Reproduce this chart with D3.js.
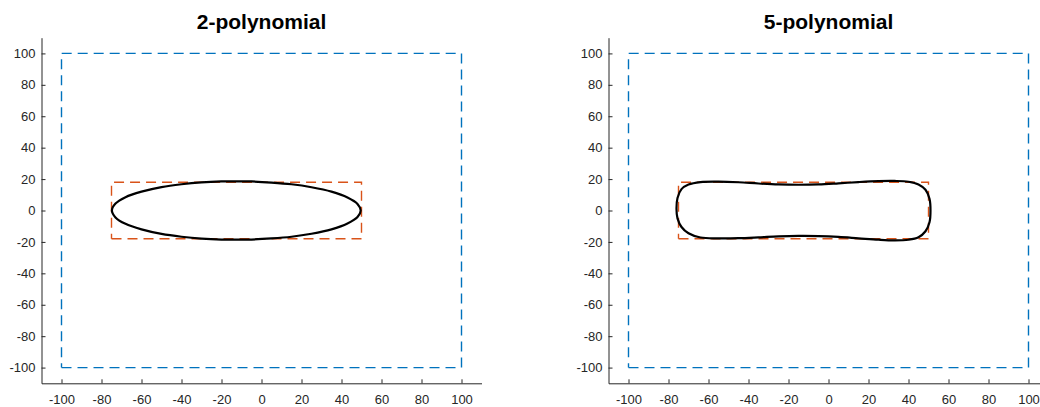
<!DOCTYPE html>
<html>
<head>
<meta charset="utf-8">
<script src="https://cdn.jsdelivr.net/npm/d3@7"></script>
<style>
  body { margin: 0; background: #fff; }
  svg { display: block; font-family: "Liberation Sans", Arial, sans-serif; }
  .tick text { font-size: 13px; fill: #262626; }
  .tick line, .domain { stroke: #262626; }
</style>
</head>
<body>
<div id="plot"></div>
<script>
// tick values (same on both axes)
const xTicks = [-100, -80, -60, -40, -20, 0, 20, 40, 60, 80, 100];
const yTicks = [-100, -80, -60, -40, -20, 0, 20, 40, 60, 80, 100];

// outer bounding box (blue dashed)
const outerX = [-100, 100, 100, -100, -100];
const outerY = [-100, -100, 100, 100, -100];

// inner box (orange dashed)
const innerX = [-75, 50, 50, -75, -75];
const innerY = [-18, -18, 18, 18, -18];

// 2-polynomial outline (closed)
const poly2X = [-74.8, -73, -68, -60, -50, -40, -30, -20, -12.6, -5, 5, 15, 25, 35, 43, 48, 49.6,
                48, 43, 35, 25, 15, 5, -5, -12.6, -20, -30, -40, -50, -60, -68, -73];
const poly2Y = [0, 4.4, 8.5, 12.0, 14.9, 16.7, 17.9, 18.5, 18.6, 18.5, 17.8, 16.7, 14.8, 12.0, 8.3, 4.2, 0,
                -4.2, -8.3, -12.0, -14.8, -16.7, -17.8, -18.5, -18.6, -18.5, -17.9, -16.7, -14.9, -12.0, -8.5, -4.4];

// 5-polynomial outline (closed)
const poly5X = [-76, -75.5, -73.5, -70, -64, -55, -45, -35, -25, -15, -5, 5, 15, 25, 33, 40, 45, 48.5, 50.5, 51,
                50.5, 48.5, 45, 40, 33, 25, 15, 5, -5, -15, -25, -35, -45, -55, -64, -70, -73.5, -75.5];
const poly5Y = [1, 8, 13.6, 16.5, 18.1, 18.4, 18.0, 17.2, 16.6, 16.4, 16.6, 17.3, 18.1, 18.7, 18.8, 18.3, 16.6, 13.2, 7.5, 0,
                -7.5, -13.2, -17.0, -18.6, -19.0, -18.6, -17.7, -16.8, -16.3, -16.2, -16.5, -17.1, -17.6, -17.7, -17.2, -14.5, -10.5, -5];

const titles = ["2-polynomial", "5-polynomial"];

const W = 1040, H = 407;

const svg = d3.select("#plot")
    .append("svg")
    .attr("width", W)
    .attr("height", H);

// panel placement in pixels
const panels = [
    {left: 41.5, right: 481.5, polyX: poly2X, polyY: poly2Y, title: titles[0]},
    {left: 608.5, right: 1048.5, polyX: poly5X, polyY: poly5Y, title: titles[1]}
];
const plotTop = 37.7, plotBottom = 383.3;

function drawPanel(p) {
    let x = d3.scaleLinear().domain([-110, 110]).range([p.left, p.right]);
    let y = d3.scaleLinear().domain([-110, 110]).range([plotBottom, plotTop]);

    let g = svg.append("g");

    // axes, ticks pointing inward, plain hyphen for negatives
    g.append("g")
        .attr("transform", "translate(0," + plotBottom + ")")
        .call(d3.axisBottom(x).tickValues(xTicks).tickFormat(d => String(d))
            .tickSize(-4).tickSizeOuter(0).tickPadding(11));
    g.append("g")
        .attr("transform", "translate(" + p.left + ",0)")
        .call(d3.axisLeft(y).tickValues(yTicks).tickFormat(d => String(d))
            .tickSize(-4).tickSizeOuter(0).tickPadding(6));
    g.selectAll("g").attr("font-family", null).attr("font-size", null);

    let line = d3.line()
        .x(d => x(d[0]))
        .y(d => y(d[1]));

    // blue dashed box
    g.append("path")
        .datum(d3.zip(outerX, outerY))
        .attr("fill", "none")
        .attr("stroke", "#0072BD")
        .attr("stroke-width", 1.4)
        .attr("stroke-dasharray", "10,6")
        .attr("d", line);

    // orange dashed box
    g.append("path")
        .datum(d3.zip(innerX, innerY))
        .attr("fill", "none")
        .attr("stroke", "#D95319")
        .attr("stroke-width", 1.4)
        .attr("stroke-dasharray", "10,6")
        .attr("d", line);

    // fitted curve
    g.append("path")
        .datum(d3.zip(p.polyX, p.polyY))
        .attr("fill", "none")
        .attr("stroke", "#000")
        .attr("stroke-width", 2.2)
        .attr("d", line.curve(d3.curveCatmullRomClosed.alpha(0.5)));

    // title
    g.append("text")
        .attr("x", (p.left + p.right) / 2)
        .attr("y", 29)
        .attr("text-anchor", "middle")
        .attr("font-size", 21)
        .attr("font-weight", "bold")
        .attr("fill", "#000")
        .text(p.title);
}

panels.forEach(drawPanel);
</script>
</body>
</html>
